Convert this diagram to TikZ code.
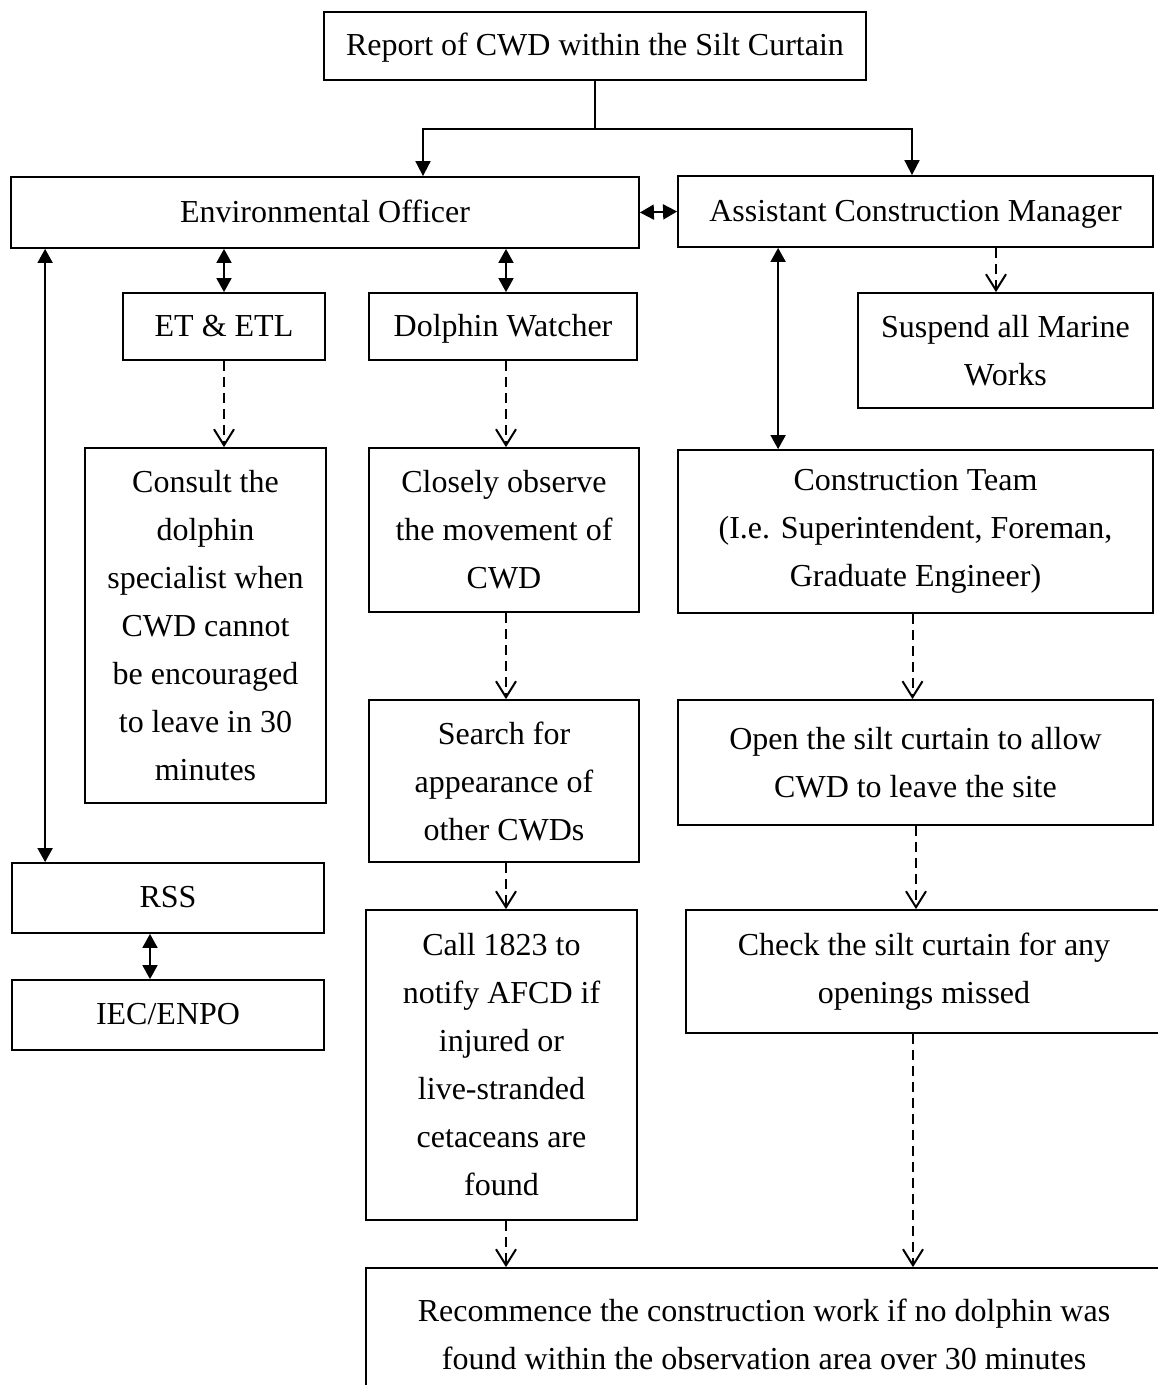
\documentclass[tikz,border=0pt]{standalone}
\usepackage{fontspec}
\setmainfont{Liberation Serif}
\usetikzlibrary{arrows.meta}
\begin{document}
\begin{tikzpicture}[x=1pt,y=-1pt,
  box/.style={draw, line width=1.8pt, inner sep=0pt, align=center,
    font=\fontsize{32}{48}\selectfont},
  sa/.style={line width=1.8pt, -{Triangle[length=15pt,width=15pt]}},
  da/.style={line width=1.8pt, {Triangle[length=14pt,width=15pt]}-{Triangle[length=14pt,width=15pt]}},
  dsh/.style={line width=2pt, dash pattern=on 10pt off 6pt,
    -{Straight Barb[length=16pt,width=20pt]}}]
\useasboundingbox (0,0) rectangle (1158,1385);
\clip (0,0) rectangle (1158,1385);
\fill[white] (0,0) rectangle (1158,1385);
% boxes
\node[box, minimum width=542pt, minimum height=68pt] (rep) at (595,46) {\strut Report of CWD within the Silt Curtain\strut};
\node[box, minimum width=628pt, minimum height=71pt] (eo) at (325,212.5) {\strut Environmental Officer\strut};
\node[box, minimum width=475pt, minimum height=71pt] (acm) at (915.5,211.5) {\strut Assistant Construction Manager\strut};
\node[box, minimum width=202pt, minimum height=67pt] (et) at (224,326.5) {\strut ET \& ETL\strut};
\node[box, minimum width=268pt, minimum height=67pt] (dw) at (503,326.5) {\strut Dolphin Watcher\strut};
\node[box, minimum width=295pt, minimum height=115pt] (sus) at (1005.5,350.5) {Suspend all Marine\\Works};
\node[box, minimum width=241pt, minimum height=355pt] (con) at (205.5,625.5) {Consult the\\dolphin\\specialist when\\CWD cannot\\be encouraged\\to leave in 30\\minutes};
\node[box, minimum width=270pt, minimum height=164pt] (clo) at (504,530) {Closely observe\\the movement of\\CWD};
\node[box, minimum width=475pt, minimum height=163pt] (ct) at (915.5,531.5) {Construction Team\\(I.e. Superintendent, Foreman,\\Graduate Engineer)};
\node[box, minimum width=270pt, minimum height=162pt] (sea) at (504,781) {Search for\\appearance of\\other CWDs};
\node[box, minimum width=475pt, minimum height=125pt] (ope) at (915.5,762.5) {Open the silt curtain to allow\\CWD to leave the site};
\node[box, minimum width=312pt, minimum height=70pt] (rss) at (168,898) {\strut RSS\strut};
\node[box, minimum width=312pt, minimum height=70pt] (iec) at (168,1015) {\strut IEC/ENPO\strut};
\node[box, minimum width=271pt, minimum height=310pt] (cal) at (501.5,1065) {Call 1823 to\\notify AFCD if\\injured or\\live-stranded\\cetaceans are\\found};
\node[box, minimum width=476pt, minimum height=123pt] (chk) at (924,971.5) {Check the silt curtain for any\\openings missed};
\node[box, minimum width=796pt, minimum height=132pt] (rec) at (764,1334) {Recommence the construction work if no dolphin was\\found within the observation area over 30 minutes};
% connectors
\draw[line width=1.8pt] (rep.south) -- ++(0,48) coordinate (j);
\draw[sa] (j) -| ([xshift=98pt]eo.north);
\draw[sa] (j) -| ([xshift=-3.5pt]acm.north);
\draw[da] (eo.east) -- (acm.west);
\draw[da] (eo.south -| et.north) -- (et.north);
\draw[da] ([xshift=3pt]eo.south -| dw.north) -- ([xshift=3pt]dw.north);
\draw[dsh] ([xshift=-9.5pt]acm.south -| sus.north) -- ([xshift=-9.5pt]sus.north);
\draw[da] ([xshift=35pt]eo.south west) -- ([xshift=34pt]rss.north west);
\draw[da] ([xshift=101pt]acm.south west) -- ([xshift=101pt]ct.north west);
\draw[dsh] (et.south) -- (con.north -| et.south);
\draw[dsh] ([xshift=3pt]dw.south) -- ([xshift=3pt]clo.north -| dw.south);
\draw[dsh] ([xshift=2pt]clo.south) -- ([xshift=2pt]sea.north);
\draw[dsh] ([xshift=2pt]sea.south) -- ([xshift=2pt]cal.north -| sea.south);
\draw[dsh] ([xshift=-3pt]ct.south) -- ([xshift=-3pt]ope.north);
\draw[dsh] ([xshift=0.5pt]ope.south) -- ([xshift=0.5pt]chk.north -| ope.south);
\draw[da] ([xshift=-18pt]rss.south) -- ([xshift=-18pt]iec.north);
\draw[dsh] ([xshift=4.5pt]cal.south) -- ([xshift=4.5pt]rec.north -| cal.south);
\draw[dsh] ([xshift=-2.5pt]chk.south -| ct.south) -- ([xshift=-2.5pt]rec.north -| ct.south);
\end{tikzpicture}
\end{document}
